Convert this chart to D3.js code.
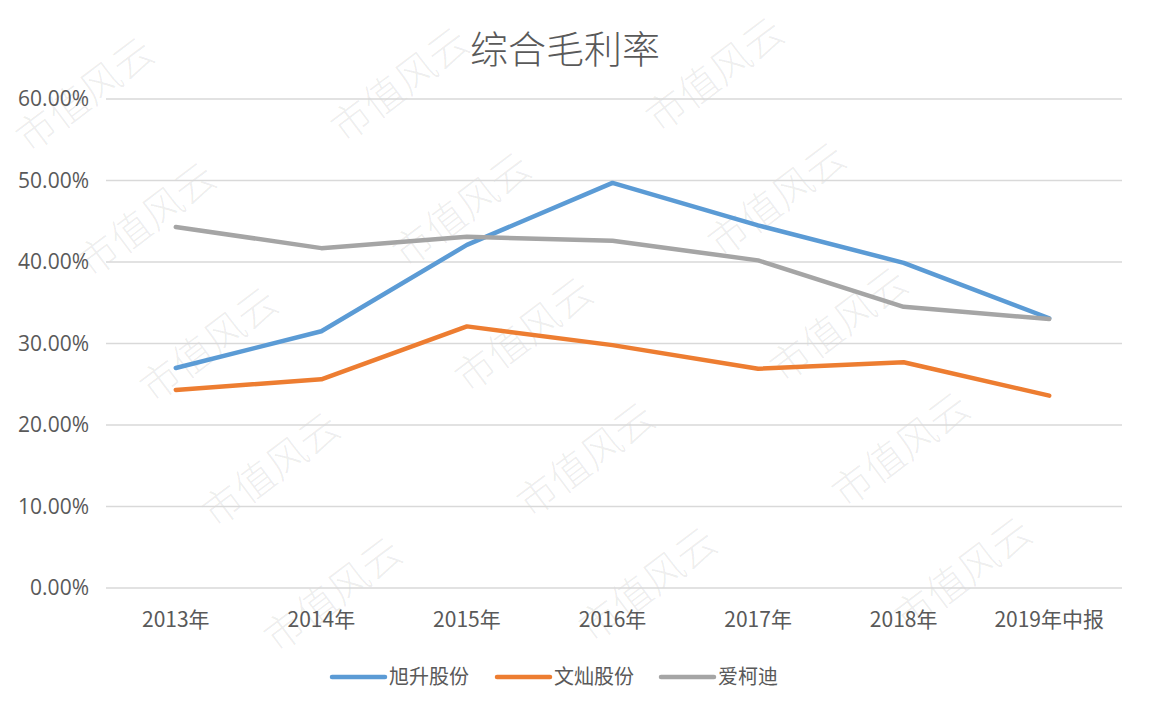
<!DOCTYPE html>
<html><head><meta charset="utf-8">
<script src="https://cdn.jsdelivr.net/npm/d3@7"></script>
<style>
html,body{margin:0;padding:0;background:#fff;}
svg{display:block;}
</style></head>
<body>
<svg id="chart" width="1150" height="709"></svg>
<script>
const title = "综合毛利率";
const categories = ["2013年","2014年","2015年","2016年","2017年","2018年","2019年中报"];
const seriesNames = ["旭升股份","文灿股份","爱柯迪"];
const xusheng = [0.270, 0.315, 0.421, 0.497, 0.445, 0.399, 0.331];
const wencan  = [0.243, 0.256, 0.321, 0.298, 0.269, 0.277, 0.236];
const aikedi  = [0.443, 0.417, 0.431, 0.426, 0.402, 0.345, 0.330];
const yTicks = [0, 0.1, 0.2, 0.3, 0.4, 0.5, 0.6];
const colors = ["#5B9BD5","#ED7D31","#A5A5A5"];
const watermark = "市值风云";

const svg = d3.select("#chart");
const W = 1150, H = 709;
const font = "'Noto Sans CJK SC','Microsoft YaHei',sans-serif";
const numFont = "'Open Sans','DejaVu Sans',sans-serif";

const x = d3.scaleBand().domain(categories).range([103, 1122]);
const y = d3.scaleLinear().domain([0, 0.6]).range([588, 99]);

// watermark lattice (behind everything)
const wm = svg.append("g").attr("pointer-events", "none");
for (let r = -1; r < 7; r++) {
  for (let c = -1; c < 5; c++) {
    const cx = 85 + c * 315 + r * 62;
    const cy = 95 - c * 10 + r * 125;
    if (cx < 80 || cx > W - 80 || cy < 66 || cy > H - 66) continue;
    wm.append("text").attr("transform", `translate(${cx},${cy}) rotate(-37)`)
      .attr("text-anchor", "middle").attr("dy", "0.35em")
      .attr("font-size", 40).attr("font-family", "'Noto Sans CJK SC',serif")
      .attr("font-weight", 200)
      .attr("fill", "#000").attr("fill-opacity", 0.07).text(watermark);
  }
}

// gridlines
svg.append("g").selectAll("line").data(yTicks).join("line")
  .attr("x1", 106).attr("x2", 1122)
  .attr("y1", d => y(d)).attr("y2", d => y(d))
  .attr("stroke", "#d9d9d9").attr("stroke-width", 1.3);

// y axis
const yAxis = d3.axisLeft(y).tickValues(yTicks).tickFormat(d3.format(".2%")).tickSize(0).tickPadding(0);
const gy = svg.append("g").attr("transform", "translate(89,0)").call(yAxis);
gy.select(".domain").remove();
gy.selectAll("text").attr("fill", "#595959").attr("font-size", 21).attr("font-family", numFont);

// x axis
const xAxis = d3.axisBottom(x).tickSize(0).tickPadding(0);
const gx = svg.append("g").attr("transform", "translate(0,620)").call(xAxis);
gx.select(".domain").remove();
gx.selectAll("text").attr("fill", "#595959").attr("font-size", 21).attr("font-family", font).attr("dy", "0.35em");

// lines
const allSeries = [xusheng, wencan, aikedi];
const line = d3.line().x((d, i) => x(categories[i]) + x.bandwidth() / 2).y(d => y(d));
allSeries.forEach((s, k) => {
  svg.append("path").datum(s).attr("d", line)
    .attr("fill", "none").attr("stroke", colors[k]).attr("stroke-width", 4.5)
    .attr("stroke-linejoin", "round").attr("stroke-linecap", "round");
});

// title
svg.append("text").attr("x", 565).attr("y", 63).attr("text-anchor", "middle")
  .attr("font-size", 38).attr("font-weight", 300).attr("font-family", font).attr("fill", "#595959").text(title);

// legend
const legendItems = [{x: 332}, {x: 497}, {x: 661}];
seriesNames.forEach((n, k) => {
  const lx = legendItems[k].x;
  svg.append("line").attr("x1", lx).attr("x2", lx + 53).attr("y1", 677).attr("y2", 677)
    .attr("stroke", colors[k]).attr("stroke-width", 4.5).attr("stroke-linecap", "round");
  svg.append("text").attr("x", lx + 57).attr("y", 677).attr("dy", "0.36em")
    .attr("font-size", 20).attr("font-family", font).attr("fill", "#595959").text(n);
});
</script>
</body></html>
